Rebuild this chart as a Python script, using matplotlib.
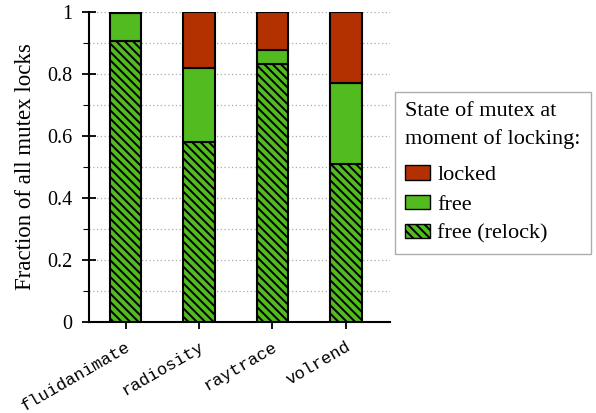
import matplotlib
matplotlib.use("Agg")
import matplotlib.pyplot as plt
from matplotlib.patches import Patch
from matplotlib.ticker import MultipleLocator

benchmarks = ["fluidanimate", "radiosity", "raytrace", "volrend"]
free_relock = [0.905, 0.580, 0.833, 0.510]
free = [0.092, 0.239, 0.044, 0.261]
locked = [0.003, 0.181, 0.123, 0.229]
ytick_vals = [0, 0.2, 0.4, 0.6, 0.8, 1.0]
ytick_text = ["0", "0.2", "0.4", "0.6", "0.8", "1"]

c_locked = "#b33100"
c_free = "#52bb1f"

plt.rcParams["font.family"] = ["Liberation Serif", "DejaVu Serif"]
plt.rcParams["hatch.linewidth"] = 1.4

fig = plt.figure(figsize=(5.96, 4.13), dpi=100)
ax = fig.add_axes([0.149, 0.220, 0.505, 0.751])

x = list(range(len(benchmarks)))
w = 0.43
bottom2 = [a + b for a, b in zip(free_relock, free)]
ax.bar(x, free_relock, w, color=c_free, edgecolor="black", linewidth=1.5,
       hatch="\\\\\\\\", zorder=3)
ax.bar(x, free, w, bottom=free_relock, color=c_free, edgecolor="black",
       linewidth=1.5, zorder=3)
ax.bar(x, locked, w, bottom=bottom2, color=c_locked, edgecolor="black",
       linewidth=1.5, zorder=3)

ax.set_xlim(-0.5, 3.6)
ax.set_ylim(0, 1)
ax.yaxis.set_minor_locator(MultipleLocator(0.1))
ax.set_yticks(ytick_vals)
ax.set_yticklabels(ytick_text, fontsize=14.5)
ax.tick_params(axis="y", which="major", direction="inout", length=10, width=1.3,
               pad=7)
ax.tick_params(axis="y", which="minor", direction="out", length=4, width=0.8)
ax.grid(axis="y", which="both", linestyle=(0, (1, 2)), color="#aaaaaa",
        linewidth=0.9, zorder=0)

ax.set_xticks(x)
ax.set_xticklabels(benchmarks, rotation=30, ha="right", rotation_mode="anchor",
                   family=["Liberation Mono", "DejaVu Sans Mono"], fontsize=12.3)
ax.tick_params(axis="x", direction="out", length=5, width=1.3, pad=7)

for side in ("top", "right"):
    ax.spines[side].set_visible(False)
for side in ("left", "bottom"):
    ax.spines[side].set_linewidth(1.5)

ax.set_ylabel("Fraction of all mutex locks", fontsize=16.5, labelpad=8)

handles = [
    Patch(facecolor=c_locked, edgecolor="black", linewidth=1.0, label="locked"),
    Patch(facecolor=c_free, edgecolor="black", linewidth=1.0, label="free"),
    Patch(facecolor=c_free, edgecolor="black", linewidth=1.0, hatch="\\\\\\\\",
          label="free (relock)"),
]
leg = fig.legend(handles=handles, title="State of mutex at\nmoment of locking:",
                 loc="upper left", bbox_to_anchor=(0.663, 0.778),
                 fontsize=16, title_fontsize=16, frameon=True, fancybox=False,
                 edgecolor="#999999", handlelength=1.1, handleheight=0.6,
                 handletextpad=0.35, labelspacing=0.42, borderpad=0.45,
                 borderaxespad=0)
leg._legend_box.align = "left"
leg._legend_box.sep = 12
leg.get_title().set_linespacing(1.55)
leg.get_frame().set_linewidth(1.0)

fig.savefig("out.png", dpi=100)
